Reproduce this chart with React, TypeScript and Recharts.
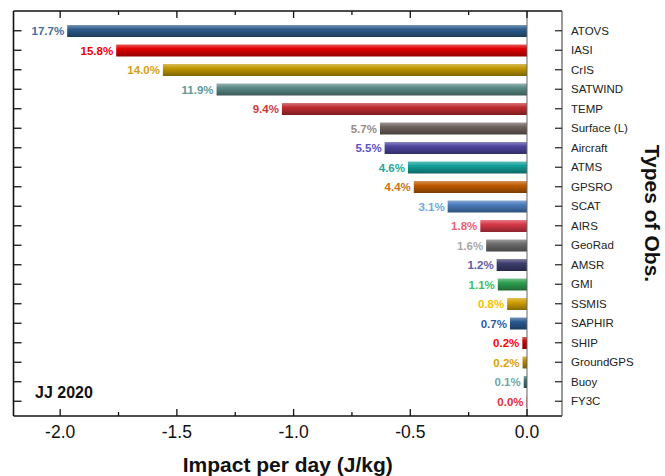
import { BarChart, Bar, XAxis, YAxis, Cell, LabelList, ReferenceLine } from "recharts";

const FONT = "'Liberation Sans', Arial, sans-serif";

const obsTypes = [
  "ATOVS", "IASI", "CrIS", "SATWIND", "TEMP", "Surface (L)", "Aircraft", "ATMS", "GPSRO", "SCAT",
  "AIRS", "GeoRad", "AMSR", "GMI", "SSMIS", "SAPHIR", "SHIP", "GroundGPS", "Buoy", "FY3C",
];

// impact per day (J/kg)
const impacts = [
  -1.97, -1.76, -1.56, -1.33, -1.05, -0.63, -0.61, -0.51, -0.485, -0.34,
  -0.2, -0.175, -0.13, -0.125, -0.085, -0.073, -0.02, -0.019, -0.014, -0.002,
];

const shares = [
  "17.7%", "15.8%", "14.0%", "11.9%", "9.4%", "5.7%", "5.5%", "4.6%", "4.4%", "3.1%",
  "1.8%", "1.6%", "1.2%", "1.1%", "0.8%", "0.7%", "0.2%", "0.2%", "0.1%", "0.0%",
];

const barColors = [
  "#2d5d8c", "#e00000", "#c09800", "#5a8a86", "#c02c30", "#6e625c", "#4d46a0", "#12a09a", "#c05c00", "#4a7cbc",
  "#d83848", "#6c6c6c", "#3e3e70", "#2ea050", "#d0a000", "#2a5a92", "#d00000", "#c08a00", "#3e7070", "#c03030",
];

const labelColors = [
  "#3d6fa5", "#f00000", "#d4a017", "#5f9a9a", "#d03838", "#9a8a80", "#5a55c0", "#20a8a0", "#d07010", "#70a8e0",
  "#f06070", "#a8a8a8", "#6060a8", "#40c060", "#f8c000", "#2f5f9f", "#ff0000", "#e0a000", "#70a8a8", "#e03030",
];

const xTicks = [-2, -1.75, -1.5, -1.25, -1, -0.75, -0.5, -0.25, 0];

const data = obsTypes.map((name, i) => ({ name, impact: impacts[i], share: shares[i] }));

function shade(hex: string, amt: number) {
  const n = parseInt(hex.slice(1), 16);
  const ch = [(n >> 16) & 255, (n >> 8) & 255, n & 255].map((c) =>
    Math.round(amt >= 0 ? c + (255 - c) * amt : c * (1 + amt))
  );
  return `rgb(${ch.join(",")})`;
}

const isMajor = (v: number) => Math.abs(v * 2 - Math.round(v * 2)) < 1e-6;

function BottomTick({ x, y, payload }: any) {
  const major = isMajor(payload.value);
  return (
    <g>
      <line x1={x} x2={x} y1={y} y2={y - (major ? 7 : 4)} stroke="#111" strokeWidth={1.3} />
      {major && (
        <text x={x} y={y + 22} textAnchor="middle" fontSize={17.5} fontFamily={FONT} fill="#111">
          {payload.value.toFixed(1)}
        </text>
      )}
    </g>
  );
}

function TopTick({ x, y, payload }: any) {
  const major = isMajor(payload.value);
  return <line x1={x} x2={x} y1={y} y2={y + (major ? 7 : 4)} stroke="#111" strokeWidth={1.3} />;
}

function LeftTick({ x, y }: any) {
  return <line x1={x} x2={x + 8} y1={y} y2={y} stroke="#111" strokeWidth={1.3} />;
}

function RightTick({ x, y, payload }: any) {
  return (
    <g>
      <line x1={x} x2={x - 7} y1={y} y2={y} stroke="#222" strokeWidth={1.2} />
      <text x={x + 9} y={y} dy="0.36em" fontSize={11.5} fontFamily={FONT} fill="#222">
        {payload.value}
      </text>
    </g>
  );
}

function ShareLabel(props: any) {
  const vb = props.viewBox ?? props;
  const { x, y, width, height } = vb;
  const i = props.index ?? shares.indexOf(props.value);
  const left = Math.min(x, x + width);
  return (
    <text
      x={left - 3}
      y={y + height / 2}
      dy="0.36em"
      textAnchor="end"
      fontSize={11.5}
      fontWeight="bold"
      fontFamily={FONT}
      fill={labelColors[i]}
    >
      {props.value}
    </text>
  );
}

function SideTitle(props: any) {
  const { x, y, height } = props.viewBox;
  const cx = x + 91;
  const cy = y + height / 2;
  return (
    <text
      x={cx}
      y={cy}
      dy="0.36em"
      textAnchor="middle"
      fontSize={21}
      fontWeight="bold"
      fontFamily={FONT}
      fill="#111"
      transform={`rotate(90, ${cx}, ${cy})`}
    >
      Types of Obs.
    </text>
  );
}

export default function App() {
  return (
    <div style={{ position: "absolute", left: 0, top: 0, width: 665, height: 476, background: "#fff" }}>
      <BarChart
        width={665}
        height={476}
        data={data}
        layout="vertical"
        margin={{ top: 10, right: 3, bottom: 2, left: 12.5 }}
      >
        <defs>
          {barColors.map((c, i) => (
            <linearGradient key={i} id={`bar-grad-${i}`} x1="0" y1="0" x2="0" y2="1">
              <stop offset="0%" stopColor={shade(c, 0.35)} />
              <stop offset="35%" stopColor={c} />
              <stop offset="100%" stopColor={shade(c, -0.35)} />
            </linearGradient>
          ))}
        </defs>
        <XAxis
          xAxisId="bottom"
          type="number"
          domain={[-2.2, 0.15]}
          ticks={xTicks}
          interval={0}
          allowDataOverflow
          height={58}
          tickLine={false}
          tickSize={0}
          tickMargin={0}
          tick={<BottomTick />}
          axisLine={{ stroke: "#111", strokeWidth: 1.6 }}
          label={{
            value: "Impact per day (J/kg)",
            position: "insideBottom",
            offset: 2,
            fontSize: 21,
            fontWeight: "bold",
            fontFamily: FONT,
            fill: "#111",
          }}
        />
        <XAxis
          xAxisId="top"
          orientation="top"
          type="number"
          domain={[-2.2, 0.15]}
          ticks={xTicks}
          interval={0}
          allowDataOverflow
          height={1}
          tickLine={false}
          tickSize={0}
          tickMargin={0}
          tick={<TopTick />}
          axisLine={{ stroke: "#111", strokeWidth: 1.6 }}
        />
        <YAxis
          yAxisId="left"
          type="category"
          dataKey="name"
          width={1}
          interval={0}
          padding={{ top: 10, bottom: 5 }}
          tickLine={false}
          tickSize={0}
          tickMargin={0}
          tick={<LeftTick />}
          axisLine={{ stroke: "#111", strokeWidth: 1.6 }}
        />
        <YAxis
          yAxisId="right"
          orientation="right"
          type="category"
          dataKey="name"
          width={100}
          interval={0}
          padding={{ top: 10, bottom: 5 }}
          tickLine={false}
          tickSize={0}
          tickMargin={0}
          tick={<RightTick />}
          axisLine={{ stroke: "#555", strokeWidth: 1.2 }}
          label={{ content: <SideTitle /> }}
        />
        <Bar
          dataKey="impact"
          xAxisId="bottom"
          yAxisId="left"
          barSize={12}
          isAnimationActive={false}
        >
          {data.map((_, i) => (
            <Cell key={i} fill={`url(#bar-grad-${i})`} />
          ))}
          <LabelList dataKey="share" content={<ShareLabel />} />
        </Bar>
        <ReferenceLine x={0} xAxisId="bottom" yAxisId="left" stroke="#666" strokeWidth={1} />
      </BarChart>
      <svg
        width={665}
        height={476}
        style={{ position: "absolute", left: 0, top: 0, pointerEvents: "none" }}
      >
        <text x={35} y={398} fontSize={16} fontWeight="bold" fontFamily={FONT} fill="#111">
          JJ 2020
        </text>
      </svg>
    </div>
  );
}
